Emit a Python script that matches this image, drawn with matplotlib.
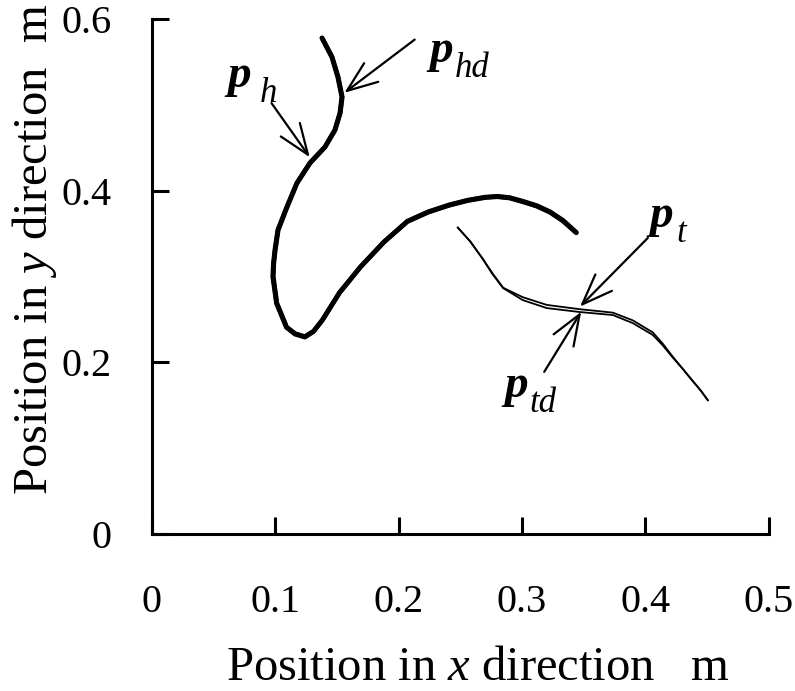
import matplotlib
matplotlib.use("Agg")
import matplotlib.pyplot as plt
from matplotlib.transforms import offset_copy

plt.rcParams['font.family'] = ['Liberation Serif', 'DejaVu Serif']
plt.rcParams['mathtext.fontset'] = 'custom'
plt.rcParams['mathtext.rm'] = 'Liberation Serif'
plt.rcParams['mathtext.it'] = 'Liberation Serif:italic'

# head trajectory, actual (p_h) and desired (p_hd)
head_x = [0.1378, 0.1459, 0.1507, 0.1540, 0.1524, 0.1483, 0.1402, 0.1280, 0.1175, 0.1094,
          0.1021, 0.0997, 0.0985, 0.0980, 0.1010, 0.1090, 0.1160, 0.1240, 0.1310, 0.1380,
          0.1520, 0.1690, 0.1880, 0.2070, 0.2240, 0.2410, 0.2560, 0.2700, 0.2800, 0.2900,
          0.3010, 0.3120, 0.3225, 0.3330, 0.3440]
head_y = [0.5779, 0.5557, 0.5324, 0.5091, 0.4905, 0.4707, 0.4509, 0.4322, 0.4089, 0.3810,
          0.3542, 0.3309, 0.3150, 0.3000, 0.2690, 0.2410, 0.2330, 0.2295, 0.2360, 0.2490,
          0.2810, 0.3110, 0.3400, 0.3640, 0.3750, 0.3830, 0.3885, 0.3920, 0.3930, 0.3915,
          0.3870, 0.3820, 0.3750, 0.3650, 0.3510]
head_xd = [0.1380, 0.1461, 0.1510, 0.1543, 0.1527, 0.1485, 0.1404, 0.1282, 0.1177, 0.1096,
           0.1024, 0.1000, 0.0988, 0.0984, 0.1013, 0.1093, 0.1162, 0.1240, 0.1312, 0.1383,
           0.1522, 0.1692, 0.1882, 0.2071, 0.2241, 0.2410, 0.2560, 0.2700, 0.2800, 0.2900,
           0.3012, 0.3122, 0.3227, 0.3332, 0.3440]
head_yd = [0.5779, 0.5557, 0.5324, 0.5091, 0.4905, 0.4707, 0.4509, 0.4322, 0.4089, 0.3810,
           0.3542, 0.3309, 0.3150, 0.3000, 0.2690, 0.2410, 0.2335, 0.2300, 0.2365, 0.2495,
           0.2815, 0.3115, 0.3405, 0.3645, 0.3755, 0.3835, 0.3890, 0.3925, 0.3935, 0.3920,
           0.3875, 0.3825, 0.3755, 0.3655, 0.3515]

# tail trajectory, actual (p_t) and desired (p_td)
tail_x = [0.248, 0.258, 0.268, 0.276, 0.2847, 0.3006, 0.3201, 0.3468, 0.3736, 0.3898,
          0.406, 0.414, 0.422, 0.430, 0.438, 0.445, 0.4506]
tail_y = [0.357, 0.341, 0.321, 0.303, 0.2866, 0.2726, 0.2633, 0.2587, 0.2552, 0.2458,
          0.232, 0.220, 0.206, 0.193, 0.179, 0.167, 0.156]
tail_xd = [0.248, 0.258, 0.268, 0.276, 0.2847, 0.3006, 0.3201, 0.3468, 0.3736, 0.3898,
           0.406, 0.414, 0.422, 0.430, 0.438, 0.445, 0.4506]
tail_yd = [0.357, 0.341, 0.321, 0.304, 0.2870, 0.2760, 0.2670, 0.2620, 0.2580, 0.2490,
           0.235, 0.222, 0.207, 0.193, 0.179, 0.167, 0.156]

# label anchors (baseline-left of p) and arrows (tail -> tip)
labels = ['h', 'hd', 't', 'td']
label_x = [0.0616, 0.2253, 0.4036, 0.2861]
label_y = [0.5208, 0.5499, 0.3577, 0.1596]
sub_dx = [32, 25, 27, 25]
arrow_from = [(0.097, 0.502), (0.213, 0.576), (0.402, 0.345), (0.318, 0.189)]
arrow_to = [(0.128, 0.439), (0.156, 0.514), (0.347, 0.265), (0.348, 0.259)]

fig = plt.figure(figsize=(7.95, 6.91), dpi=100)
ax = fig.add_axes([0.191, 0.227, 0.776, 0.7455])

ax.plot(head_xd, head_yd, color='black', lw=3.4, solid_capstyle='round', solid_joinstyle='round')
ax.plot(head_x, head_y, color='black', lw=3.4, solid_capstyle='round', solid_joinstyle='round')
ax.plot(tail_xd, tail_yd, color='black', lw=1.3, solid_joinstyle='round')
ax.plot(tail_x, tail_y, color='black', lw=1.3, solid_joinstyle='round')

arrow = dict(arrowstyle='->,head_length=1.1,head_width=0.42', color='black', lw=1.6,
             mutation_scale=20, shrinkA=0, shrinkB=0)
for a, b in zip(arrow_from, arrow_to):
    ax.annotate('', xy=b, xytext=a, arrowprops=arrow)

for lab, x, y, dx in zip(labels, label_x, label_y, sub_dx):
    ax.text(x, y, 'p', fontsize=34, fontweight='bold', fontstyle='italic',
            ha='left', va='baseline')
    tr = offset_copy(ax.transData, fig=fig, x=dx, y=-15, units='dots')
    ax.text(x, y, lab, fontsize=25, fontstyle='italic', ha='left', va='baseline', transform=tr)

ax.set_xlim(0, 0.5)
ax.set_ylim(0, 0.6)
ax.set_xticks([0, 0.1, 0.2, 0.3, 0.4, 0.5])
ax.set_xticklabels(['0', '0.1', '0.2', '0.3', '0.4', '0.5'])
ax.set_yticks([0, 0.2, 0.4, 0.6])
ax.set_yticklabels(['0', '0.2', '0.4', '0.6'])
for s in ['top', 'right']:
    ax.spines[s].set_visible(False)
for s in ['left', 'bottom']:
    ax.spines[s].set_linewidth(2.2)
ax.tick_params(axis='both', direction='in', length=12, width=2.2, labelsize=29)
ax.tick_params(axis='x', pad=36)
ax.tick_params(axis='y', pad=29)
ax.set_xlabel('Position in $x$ direction   m', fontsize=35)
ax.set_ylabel('Position in $y$ direction  m', fontsize=35)
ax.xaxis.set_label_coords(0.528, -0.218)
ax.yaxis.set_label_coords(-0.15, 0.553)

fig.savefig('out.png', dpi=100)
